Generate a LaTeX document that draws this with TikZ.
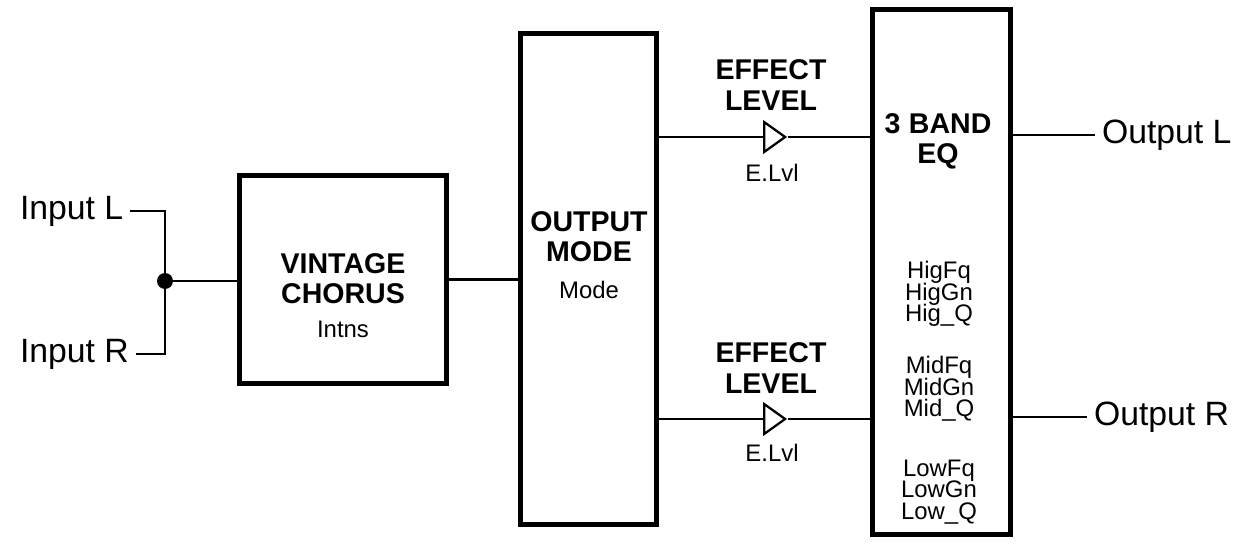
\documentclass[tikz,border=0pt]{standalone}
\usepackage{fontspec}
\setmainfont{Liberation Sans}
\usetikzlibrary{shapes.geometric}
\setlength{\lineskiplimit}{-20pt}

\tikzset{
  blockBox/.style={draw, line width=3.5pt, inner sep=0pt},
  titleText/.style={font=\fontsize{20.3}{21.5}\selectfont\bfseries, align=center, inner sep=0pt},
  paramText/.style={font=\fontsize{17}{15.4}\selectfont, align=center, inner sep=0pt},
  ioText/.style={font=\fontsize{24}{28}\selectfont, inner sep=0pt, outer xsep=5pt},
  thinLine/.style={line width=1.8pt},
  ampTri/.style={draw, isosceles triangle, isosceles triangle stretches, fill=white,
    line width=1.6pt, inner sep=0pt, minimum width=30*0.025cm, minimum height=21*0.025cm},
  joinDot/.style={circle, fill, inner sep=0pt, minimum size=16*0.025cm}
}

\begin{document}
\begin{tikzpicture}[x=0.025cm, y=-0.025cm]
    \useasboundingbox (0,0) rectangle (1237,545);

    %Blocks
    \node[blockBox, minimum width=207*0.025cm, minimum height=208*0.025cm] (chorus) at (343,279.5) {};
    \node[blockBox, minimum width=136*0.025cm, minimum height=491*0.025cm] (mode) at (588.5,279) {};
    \node[blockBox, minimum width=138*0.025cm, minimum height=525*0.025cm] (eq) at (941.5,272) {};

    %Block texts
    \node[titleText] (chorusTitle) at (343,278.5) {VINTAGE\\CHORUS};
    \node[paramText] (chorusParam) at (343,329) {Intns};
    \node[titleText] (modeTitle) at (589,236.5) {OUTPUT\\MODE};
    \node[paramText] (modeParam) at (589,290) {Mode};
    \node[titleText] (eqTitle) at (938,141) {3\hspace{0.3em}BAND\\EQ};
    \node[paramText] (eqHig) at (939,294) {HigFq\\HigGn\\Hig\_Q};
    \node[paramText] (eqMid) at (939,389) {MidFq\\MidGn\\Mid\_Q};
    \node[paramText] (eqLow) at (939,492) {LowFq\\LowGn\\Low\_Q};

    %Inputs
    \node[ioText, anchor=west] (inL) at (13,211) {Input L};
    \node[ioText, anchor=west] (inR) at (13,354) {Input R};
    \node[joinDot] (junc) at (165,281) {};
    \draw[thinLine] (inL.east) -| (junc);
    \draw[thinLine] (inR.east) -| (junc);
    \draw[thinLine] (junc) -- (junc -| chorus.west);
    \draw[thinLine] (chorus.east) -- (chorus.east -| mode.west);

    %Effect levels
    \node[ampTri, anchor=west] (ampL) at (763,137) {};
    \node[ampTri, anchor=west] (ampR) at (763,419) {};
    \node[titleText] (levelL) at (771,85) {EFFECT\\LEVEL};
    \node[titleText] (levelR) at (771,368) {EFFECT\\LEVEL};
    \node[paramText] (lvlL) at (772,173) {E.Lvl};
    \node[paramText] (lvlR) at (772,453) {E.Lvl};
    \draw[thinLine] (ampL.west -| mode.east) -- (ampL.west);
    \draw[thinLine] (ampL.apex) -- (ampL.apex -| eq.west);
    \draw[thinLine] (ampR.west -| mode.east) -- (ampR.west);
    \draw[thinLine] (ampR.apex) -- (ampR.apex -| eq.west);

    %Outputs
    \node[ioText, anchor=west] (outL) at (1095,135) {Output L};
    \node[ioText, anchor=west] (outR) at (1087,417) {Output R};
    \draw[thinLine] (outL.west -| eq.east) -- (outL.west);
    \draw[thinLine] (outR.west -| eq.east) -- (outR.west);
\end{tikzpicture}
\end{document}
